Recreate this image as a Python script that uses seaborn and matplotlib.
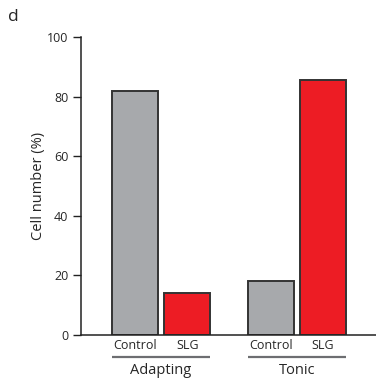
import matplotlib
matplotlib.use("Agg")
import matplotlib.pyplot as plt
import matplotlib.transforms as mtransforms
import seaborn as sns
import pandas as pd

# Percentage of cells per firing type and condition
groups = ["Adapting", "Adapting", "Tonic", "Tonic"]
conditions = ["Control", "SLG", "Control", "SLG"]
cell_pct = [82.0, 14.0, 18.2, 85.7]

group_order = ["Adapting", "Tonic"]
condition_order = ["Control", "SLG"]
y_ticks = [0, 20, 40, 60, 80, 100]

df = pd.DataFrame({"group": groups, "condition": conditions, "pct": cell_pct})

sns.set_style("ticks")
plt.rcParams["font.family"] = ["Open Sans", "DejaVu Sans"]

fig = plt.figure(figsize=(3.76, 3.80), dpi=100)
ax = fig.add_axes([81 / 376, 45 / 380, 1 - 81 / 376, 298 / 380])

palette = {"Control": "#a7a9ac", "SLG": "#ed1c24"}
sns.barplot(data=df, x="group", y="pct", hue="condition",
            order=group_order, hue_order=condition_order,
            palette=palette, width=0.77, gap=0.12, saturation=1,
            edgecolor="#333333", linewidth=1.4, legend=False, ax=ax)

ax.set_xlim(-0.59, 1.583)
ax.set_ylim(0, 100)
ax.set_yticks(y_ticks)
ax.set_yticklabels([str(t) for t in y_ticks], fontsize=9)
ax.tick_params(axis="y", length=6, width=1, pad=3, color="#222222")
ax.set_ylabel("Cell number (%)", fontsize=10.5, labelpad=1)
ax.set_xlabel("")

# sub-labels under each bar, using the bar centres
offset = 0.77 / 4
centres = []
labels = []
for gi, g in enumerate(group_order):
    for ci, c in enumerate(condition_order):
        centres.append(gi + (ci - 0.5) * 2 * offset)
        labels.append(c)
ax.set_xticks(centres)
ax.set_xticklabels(labels, fontsize=9)
ax.tick_params(axis="x", length=0, pad=3)

trans = mtransforms.blended_transform_factory(ax.transData, ax.transAxes)
half = 0.77 / 2 - 0.77 / 2 * 0.12 / 2
for gi, g in enumerate(group_order):
    ax.plot([gi - half, gi + half], [-0.074, -0.074], color="#6d6e71",
            lw=1.6, transform=trans, clip_on=False, solid_capstyle="butt")
    ax.text(gi, -0.118, g, transform=trans, ha="center", va="center",
            fontsize=10.5)

for side in ["top", "right"]:
    ax.spines[side].set_visible(False)
for side in ["left", "bottom"]:
    ax.spines[side].set_linewidth(1.1)
    ax.spines[side].set_color("#222222")

fig.text(0.022, 0.955, "d", fontsize=12.5, ha="left", va="center")

fig.savefig("out.png", dpi=100)
